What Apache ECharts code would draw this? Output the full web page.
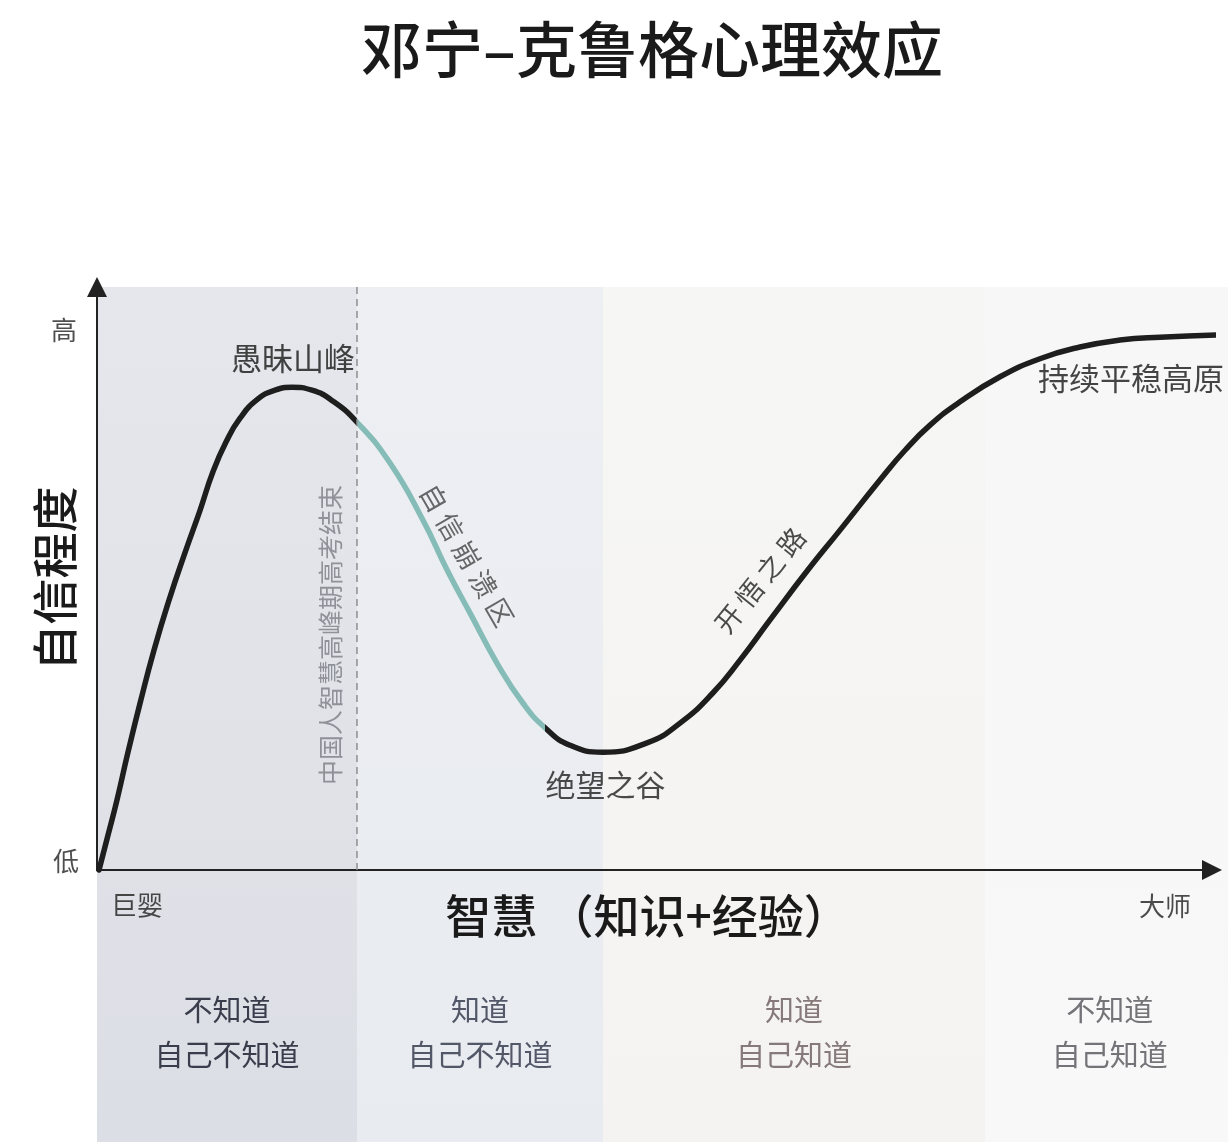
<!DOCTYPE html>
<html><head><meta charset="utf-8">
<script src="https://cdn.jsdelivr.net/npm/echarts@6/dist/echarts.min.js"></script>
<style>html,body{margin:0;padding:0;background:#fff}#c{width:1228px;height:1142px}</style>
</head><body><div id="c"></div>
<script>
// curve (wisdom x, confidence y)
const curveX = [0.18, 0.99, 1.79, 2.78, 3.86, 5.11, 6.46, 7.98, 9.24, 10.40, 11.57, 12.83, 14.44, 15.96, 17.49, 19.28, 21.17, 23.32, 26.28, 29.24, 31.39, 33.45, 35.87, 38.21, 40.18, 42.42, 45.38, 49.33, 52.29, 55.25, 57.67, 60.36, 63.77, 66.64, 70.22, 72.47, 74.71, 77.40, 80.99, 84.57, 88.16, 91.75, 95.34, 100.9];
const curveY = [0, 6.0, 12.0, 20.2, 28.6, 37.7, 46.3, 54.9, 61.7, 68.3, 73.4, 77.5, 80.8, 82.3, 82.8, 82.3, 80.4, 76.8, 69.8, 60.0, 51.5, 44.1, 35.5, 28.6, 24.4, 21.4, 20.2, 21.8, 25.2, 30.4, 36.0, 42.9, 51.5, 58.3, 66.9, 72.0, 76.3, 80.3, 84.6, 87.7, 89.7, 90.9, 91.4, 91.8];
// segment boundaries of the teal "collapse" part
const collapseStart = 23.32;
const collapseEnd = 40.18;
// bands
const bandStart = [0, 23.32, 45.38, 79.64];
const bandEnd = [23.32, 45.38, 79.64, 102];
const bandLine1 = ['不知道', '知道', '知道', '不知道'];
const bandLine2 = ['自己不知道', '自己不知道', '自己知道', '自己知道'];
// annotations
const labelNames = ['愚昧山峰', '自 信 崩 溃 区', '绝望之谷', '开 悟 之 路', '持续平稳高原', '中国人智慧高峰期高考结束', '巨婴', '大师', '高', '低'];
const labelX = [17.58, 33.18, 45.6, 59.46, 92.74, 20.9, 3.59, 95.78, -2.96, -2.78];
const labelY = [87.8, 54.0, 14.6, 49.7, 84.4, 40.3, -6.0, -6.2, 92.6, 1.5];
const titleText = '邓宁–克鲁格心理效应';
const xName = '智慧 （知识+经验）';
const yName = '自信程度';

const FONT = '"Noto Sans CJK SC", "Noto Sans", sans-serif';
const bandTop = ['#e6e7ec', '#edeff3', '#f6f6f4', '#f7f7f7'];
const bandBottom = ['#dcdee5', '#e8ebef', '#f4f3f1', '#f8f8f8'];
const bandTextColor = ['#3a3d4b', '#535869', '#85797a', '#737378'];
const labelStyle = [
  {fontSize: 31, color: '#161616', rotate: 0},
  {fontSize: 27, color: '#444', rotate: -60},
  {fontSize: 30, color: '#1e1e1e', rotate: 0},
  {fontSize: 27, color: '#1e1e1e', rotate: 51},
  {fontSize: 31, color: '#161616', rotate: 0},
  {fontSize: 25, color: '#7b7d85', rotate: 90},
  {fontSize: 26, color: '#1e1e1e', rotate: 0},
  {fontSize: 26, color: '#1e1e1e', rotate: 0},
  {fontSize: 26, color: '#222', rotate: 0},
  {fontSize: 26, color: '#222', rotate: 0}
];

const chart = echarts.init(document.getElementById('c'));
const curveData = curveX.map((x, i) => [x, curveY[i]]);
const bandData = bandStart.map((s, i) => [s, bandEnd[i], i]);
const labelData = labelNames.map((n, i) => ({
  name: n, value: [labelX[i], labelY[i]],
  label: {rotate: labelStyle[i].rotate, fontSize: labelStyle[i].fontSize, color: labelStyle[i].color}
}));

chart.setOption({
  animation: false,
  backgroundColor: '#fff',
  graphic: [{
    type: 'text', x: 652, y: 50, z: 10,
    style: {text: titleText, fontSize: 61, fontWeight: 500, fontFamily: FONT, fill: '#1a1a1a', align: 'center', verticalAlign: 'middle'}
  }],
  grid: {left: 97, right: 16, top: 287, bottom: 272, containLabel: false},
  xAxis: {
    type: 'value', min: 0, max: 100, z: 3,
    axisLine: {show: true, symbol: ['none', 'triangle'], symbolSize: [20, 20], lineStyle: {color: '#222', width: 2}},
    axisTick: {show: false}, axisLabel: {show: false}, splitLine: {show: false},
    name: xName, nameLocation: 'middle', nameGap: 23,
    nameTextStyle: {fontSize: 46, fontWeight: 500, fontFamily: FONT, color: '#1a1a1a', verticalAlign: 'top', padding: [0, 14, 0, 0]}
  },
  yAxis: {
    type: 'value', min: 0, max: 100, z: 3,
    axisLine: {show: true, symbol: ['none', 'triangle'], symbolSize: [20, 20], lineStyle: {color: '#222', width: 2}},
    axisTick: {show: false}, axisLabel: {show: false}, splitLine: {show: false},
    name: yName, nameLocation: 'middle', nameRotate: 90, nameGap: 19,
    nameTextStyle: {fontSize: 46, fontWeight: 500, fontFamily: FONT, color: '#1a1a1a'}
  },
  visualMap: {
    show: false, type: 'piecewise', seriesIndex: 1, dimension: 0,
    pieces: [
      {lt: collapseStart, color: '#1e1e1e'},
      {gte: collapseStart, lt: collapseEnd, color: '#86bcb7'},
      {gte: collapseEnd, color: '#1e1e1e'}
    ]
  },
  series: [
    {
      type: 'custom', z: 1, clip: false, silent: true,
      data: bandData,
      encode: {x: [0, 1]},
      renderItem: function (params, api) {
        const i = api.value(2);
        const p0 = api.coord([api.value(0), 100]);
        const p1 = api.coord([api.value(1), -47]);
        const ty = api.coord([0, -27.8])[1];
        return {
          type: 'group',
          children: [
            {type: 'rect', shape: {x: p0[0], y: p0[1], width: p1[0] - p0[0], height: p1[1] - p0[1]},
              style: {fill: new echarts.graphic.LinearGradient(0, 0, 0, 1, [{offset: 0, color: bandTop[i]}, {offset: 1, color: bandBottom[i]}])}},
            {type: 'text', x: (p0[0] + p1[0]) / 2, y: ty,
              style: {text: bandLine1[i] + '\n' + bandLine2[i], align: 'center', verticalAlign: 'middle', fontSize: 29, lineHeight: 45, fontFamily: FONT, fill: bandTextColor[i]}}
          ]
        };
      }
    },
    {
      type: 'line', z: 4, clip: false, smooth: 0.5, showSymbol: false, silent: true,
      data: curveData,
      lineStyle: {width: 5.5, cap: 'round', join: 'round'}
    },
    {
      type: 'line', z: 2, data: [], silent: true,
      markLine: {
        silent: true, symbol: ['none', 'none'], label: {show: false},
        lineStyle: {type: [7, 5], color: '#8e8e8e', width: 1.5},
        data: [{xAxis: collapseStart}]
      }
    },
    {
      type: 'scatter', z: 5, clip: false, silent: true,
      symbolSize: 1, itemStyle: {color: 'rgba(0,0,0,0)'},
      data: labelData,
      label: {show: true, position: 'inside', formatter: '{b}', fontFamily: FONT}
    }
  ]
});
</script></body></html>
